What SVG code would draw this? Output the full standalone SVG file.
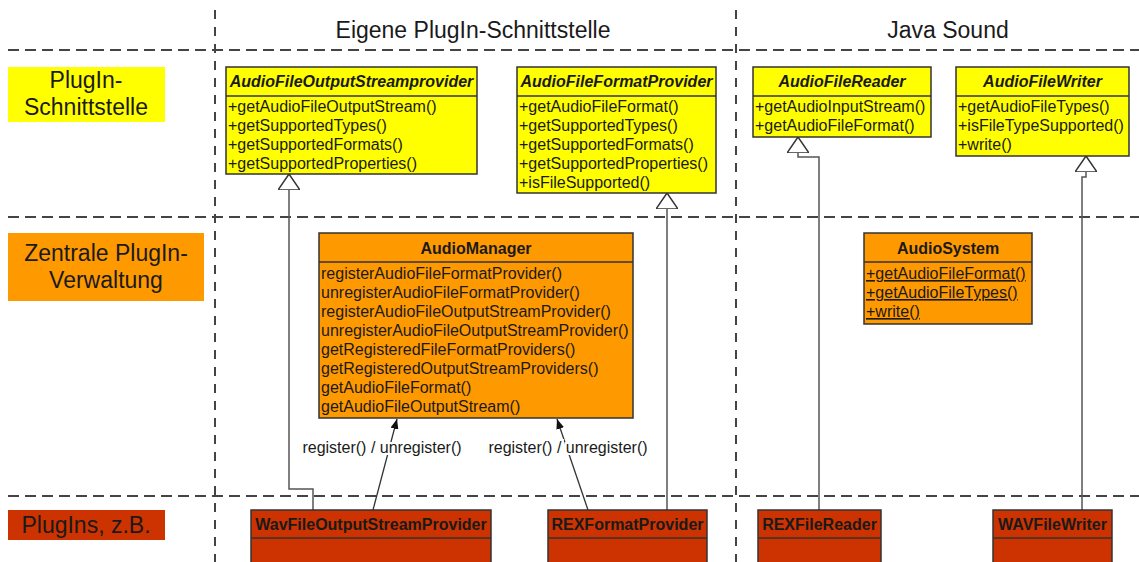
<svg xmlns="http://www.w3.org/2000/svg" width="1139" height="562" viewBox="0 0 1139 562">
  <style>
    text { font-family: "Liberation Sans", Arial, sans-serif; fill: #1a1a1a; }
    .grid-h { stroke: #444; stroke-width: 2; stroke-dasharray: 11 6; fill: none; }
    .grid-v { stroke: #444; stroke-width: 2; stroke-dasharray: 9 8; fill: none; }
    .col-title { font-size: 23px; text-anchor: middle; }
    .lane-label { font-size: 23px; text-anchor: middle; }
    .box { stroke: #333; stroke-width: 1.5; }
    .sep { stroke: #333; stroke-width: 1.5; }
    .iface { fill: #ffff00; }
    .manager { fill: #ff9900; }
    .plugin { fill: #cc3300; }
    .name { font-size: 16px; font-weight: bold; text-anchor: middle; }
    .name-i { font-size: 16px; font-weight: bold; font-style: italic; text-anchor: middle; }
    .op { font-size: 16px; }
    .op-static { font-size: 16px; text-decoration: underline; }
    .link { stroke: #555; stroke-width: 1.5; fill: none; }
    .dep { stroke: #333; stroke-width: 1.3; fill: none; }
    .edge-label { font-size: 16px; text-anchor: middle; paint-order: stroke; stroke: #fff; stroke-width: 4; }
  </style>
  <defs>
    <marker id="realizes" viewBox="0 0 16 22" refX="16" refY="11" markerWidth="16" markerHeight="22" orient="auto" markerUnits="userSpaceOnUse">
      <path d="M0,0 L16,11 L0,22 Z" fill="#fff" stroke="#333" stroke-width="1.5"/>
    </marker>
    <marker id="uses" viewBox="0 0 10 8" refX="10" refY="4" markerWidth="10" markerHeight="8" orient="auto" markerUnits="userSpaceOnUse">
      <path d="M0,0 L10,4 L0,8 Z" fill="#111"/>
    </marker>
  </defs>

  <rect width="1139" height="562" fill="#fff"/>

  <!-- swimlane grid -->
  <g id="grid">
    <line class="grid-h" x1="8" y1="50" x2="1139" y2="50"/>
    <line class="grid-h" x1="8" y1="217" x2="1139" y2="217"/>
    <line class="grid-h" x1="8" y1="496" x2="1139" y2="496"/>
    <line class="grid-v" x1="215" y1="10" x2="215" y2="562"/>
    <line class="grid-v" x1="736" y1="10" x2="736" y2="562"/>
    <text class="col-title" x="473" y="38">Eigene PlugIn-Schnittstelle</text>
    <text class="col-title" x="948" y="38">Java Sound</text>
  </g>

  <!-- lane labels -->
  <g id="lane-interfaces">
    <rect x="8" y="67" width="157" height="55" fill="#ffff00"/>
    <text class="lane-label" x="86" y="88">PlugIn-</text>
    <text class="lane-label" x="86" y="115">Schnittstelle</text>
  </g>
  <g id="lane-management">
    <rect x="8" y="233" width="196" height="68" fill="#ff9900"/>
    <text class="lane-label" x="106" y="261">Zentrale PlugIn-</text>
    <text class="lane-label" x="106" y="288">Verwaltung</text>
  </g>
  <g id="lane-plugins">
    <rect x="8" y="510" width="157" height="30" fill="#cc3300"/>
    <text class="lane-label" x="86" y="533">PlugIns, z.B.</text>
  </g>

  <!-- connectors -->
  <g id="connectors">
    <path class="link" d="M313,510 V489 H289 V174" marker-end="url(#realizes)"/>
    <path class="link" d="M667,510 V193" marker-end="url(#realizes)"/>
    <path class="link" d="M819,510 V157 H798 V137" marker-end="url(#realizes)"/>
    <path class="link" d="M1082,510 V177 H1086 V156" marker-end="url(#realizes)"/>
    <line class="dep" x1="373" y1="510" x2="397" y2="419" marker-end="url(#uses)"/>
    <line class="dep" x1="588" y1="510" x2="557" y2="419" marker-end="url(#uses)"/>
    <text class="edge-label" x="382" y="453">register() / unregister()</text>
    <text class="edge-label" x="568" y="453">register() / unregister()</text>
  </g>

  <!-- plug-in interfaces -->
  <g id="AudioFileOutputStreamprovider">
    <rect class="box iface" x="226" y="67" width="251" height="107"/>
    <line class="sep" x1="226" y1="96" x2="477" y2="96"/>
    <text class="name-i" x="351.5" y="87">AudioFileOutputStreamprovider</text>
    <text class="op" x="228" y="112">+getAudioFileOutputStream()</text>
    <text class="op" x="228" y="131">+getSupportedTypes()</text>
    <text class="op" x="228" y="150">+getSupportedFormats()</text>
    <text class="op" x="228" y="169">+getSupportedProperties()</text>
  </g>
  <g id="AudioFileFormatProvider">
    <rect class="box iface" x="517" y="67" width="199" height="126"/>
    <line class="sep" x1="517" y1="96" x2="716" y2="96"/>
    <text class="name-i" x="616.5" y="87">AudioFileFormatProvider</text>
    <text class="op" x="519" y="112">+getAudioFileFormat()</text>
    <text class="op" x="519" y="131">+getSupportedTypes()</text>
    <text class="op" x="519" y="150">+getSupportedFormats()</text>
    <text class="op" x="519" y="169">+getSupportedProperties()</text>
    <text class="op" x="519" y="188">+isFileSupported()</text>
  </g>
  <g id="AudioFileReader">
    <rect class="box iface" x="753" y="67" width="178" height="70"/>
    <line class="sep" x1="753" y1="96" x2="931" y2="96"/>
    <text class="name-i" x="842" y="87">AudioFileReader</text>
    <text class="op" x="755" y="112">+getAudioInputStream()</text>
    <text class="op" x="755" y="131">+getAudioFileFormat()</text>
  </g>
  <g id="AudioFileWriter">
    <rect class="box iface" x="956" y="67" width="173" height="89"/>
    <line class="sep" x1="956" y1="96" x2="1129" y2="96"/>
    <text class="name-i" x="1042.5" y="87">AudioFileWriter</text>
    <text class="op" x="958" y="112">+getAudioFileTypes()</text>
    <text class="op" x="958" y="131">+isFileTypeSupported()</text>
    <text class="op" x="958" y="150">+write()</text>
  </g>

  <!-- central management -->
  <g id="AudioManager">
    <rect class="box manager" x="319" y="233" width="314" height="185"/>
    <line class="sep" x1="319" y1="262" x2="633" y2="262"/>
    <text class="name" x="476" y="254">AudioManager</text>
    <text class="op" x="321" y="279">registerAudioFileFormatProvider()</text>
    <text class="op" x="321" y="298">unregisterAudioFileFormatProvider()</text>
    <text class="op" x="321" y="317">registerAudioFileOutputStreamProvider()</text>
    <text class="op" x="321" y="336">unregisterAudioFileOutputStreamProvider()</text>
    <text class="op" x="321" y="355">getRegisteredFileFormatProviders()</text>
    <text class="op" x="321" y="374">getRegisteredOutputStreamProviders()</text>
    <text class="op" x="321" y="393">getAudioFileFormat()</text>
    <text class="op" x="321" y="412">getAudioFileOutputStream()</text>
  </g>
  <g id="AudioSystem">
    <rect class="box manager" x="864" y="233" width="168" height="91"/>
    <line class="sep" x1="864" y1="262" x2="1032" y2="262"/>
    <text class="name" x="948" y="254">AudioSystem</text>
    <text class="op-static" x="866" y="279">+getAudioFileFormat()</text>
    <text class="op-static" x="866" y="298">+getAudioFileTypes()</text>
    <text class="op-static" x="866" y="317">+write()</text>
  </g>

  <!-- plug-ins -->
  <g id="WavFileOutputStreamProvider">
    <rect class="box plugin" x="251" y="510" width="240" height="62"/>
    <line class="sep" x1="251" y1="538" x2="491" y2="538"/>
    <text class="name" x="371" y="530">WavFileOutputStreamProvider</text>
  </g>
  <g id="REXFormatProvider">
    <rect class="box plugin" x="548" y="510" width="159" height="62"/>
    <line class="sep" x1="548" y1="538" x2="707" y2="538"/>
    <text class="name" x="627.5" y="530">REXFormatProvider</text>
  </g>
  <g id="REXFileReader">
    <rect class="box plugin" x="758" y="510" width="123" height="62"/>
    <line class="sep" x1="758" y1="538" x2="881" y2="538"/>
    <text class="name" x="819.5" y="530">REXFileReader</text>
  </g>
  <g id="WAVFileWriter">
    <rect class="box plugin" x="993" y="510" width="119" height="62"/>
    <line class="sep" x1="993" y1="538" x2="1112" y2="538"/>
    <text class="name" x="1052.5" y="530">WAVFileWriter</text>
  </g>
</svg>
